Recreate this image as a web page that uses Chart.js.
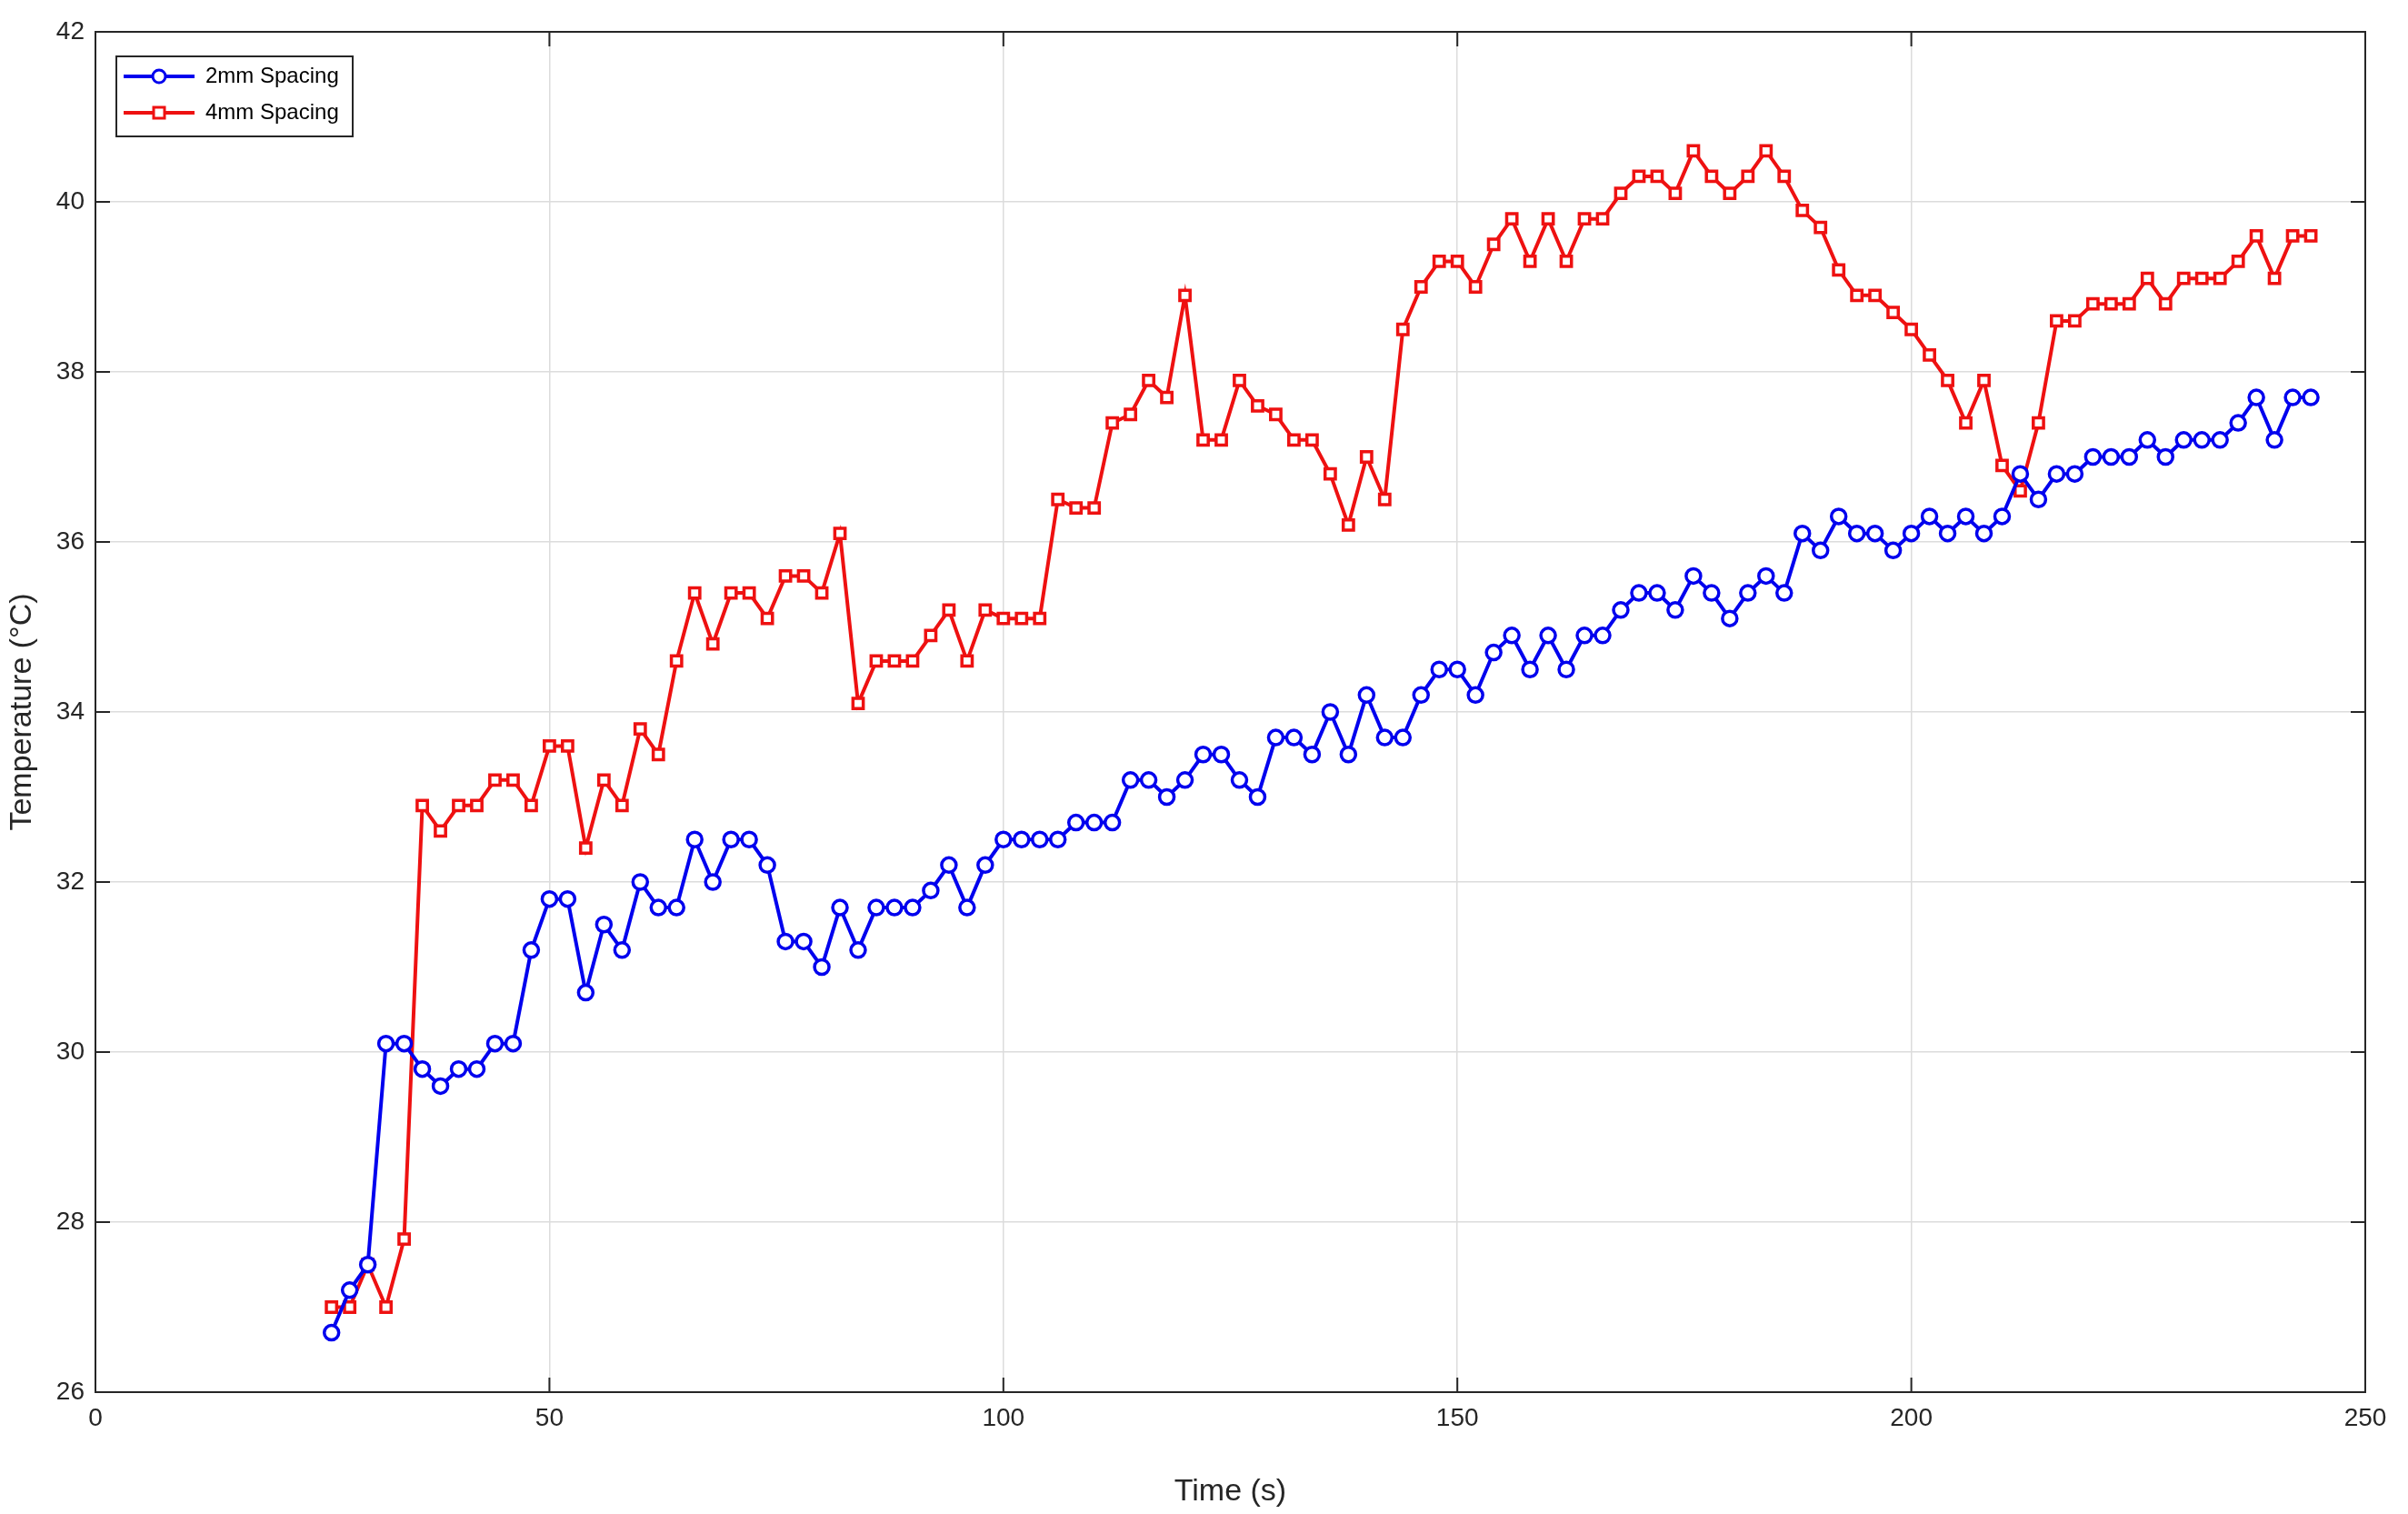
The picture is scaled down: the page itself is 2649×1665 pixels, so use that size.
<!DOCTYPE html>
<html lang="en">
<head>
    <meta charset="UTF-8">
    <title>Temperature vs Time</title>
    <script src="https://cdn.jsdelivr.net/npm/chart.js"></script>
    <style>
        body { margin: 0; background: #fff; }
        canvas { display: block; }
    </style>
</head>
<body>
    <canvas id="tempChart" width="2649" height="1665"></canvas>
    <script>
        // time stamps (s), every 2 s from 26 to 244
        const times = [];
        for (let t = 26; t <= 244; t += 2) times.push(t);

        const spacing2mm = [26.7, 27.2, 27.5, 30.1, 30.1, 29.8, 29.6, 29.8, 29.8, 30.1,
            30.1, 31.2, 31.8, 31.8, 30.7, 31.5, 31.2, 32.0, 31.7, 31.7,
            32.5, 32.0, 32.5, 32.5, 32.2, 31.3, 31.3, 31.0, 31.7, 31.2,
            31.7, 31.7, 31.7, 31.9, 32.2, 31.7, 32.2, 32.5, 32.5, 32.5,
            32.5, 32.7, 32.7, 32.7, 33.2, 33.2, 33.0, 33.2, 33.5, 33.5,
            33.2, 33.0, 33.7, 33.7, 33.5, 34.0, 33.5, 34.2, 33.7, 33.7,
            34.2, 34.5, 34.5, 34.2, 34.7, 34.9, 34.5, 34.9, 34.5, 34.9,
            34.9, 35.2, 35.4, 35.4, 35.2, 35.6, 35.4, 35.1, 35.4, 35.6,
            35.4, 36.1, 35.9, 36.3, 36.1, 36.1, 35.9, 36.1, 36.3, 36.1,
            36.3, 36.1, 36.3, 36.8, 36.5, 36.8, 36.8, 37.0, 37.0, 37.0,
            37.2, 37.0, 37.2, 37.2, 37.2, 37.4, 37.7, 37.2, 37.7, 37.7];

        const spacing4mm = [27.0, 27.0, 27.5, 27.0, 27.8, 32.9, 32.6, 32.9, 32.9, 33.2,
            33.2, 32.9, 33.6, 33.6, 32.4, 33.2, 32.9, 33.8, 33.5, 34.6,
            35.4, 34.8, 35.4, 35.4, 35.1, 35.6, 35.6, 35.4, 36.1, 34.1,
            34.6, 34.6, 34.6, 34.9, 35.2, 34.6, 35.2, 35.1, 35.1, 35.1,
            36.5, 36.4, 36.4, 37.4, 37.5, 37.9, 37.7, 38.9, 37.2, 37.2,
            37.9, 37.6, 37.5, 37.2, 37.2, 36.8, 36.2, 37.0, 36.5, 38.5,
            39.0, 39.3, 39.3, 39.0, 39.5, 39.8, 39.3, 39.8, 39.3, 39.8,
            39.8, 40.1, 40.3, 40.3, 40.1, 40.6, 40.3, 40.1, 40.3, 40.6,
            40.3, 39.9, 39.7, 39.2, 38.9, 38.9, 38.7, 38.5, 38.2, 37.9,
            37.4, 37.9, 36.9, 36.6, 37.4, 38.6, 38.6, 38.8, 38.8, 38.8,
            39.1, 38.8, 39.1, 39.1, 39.1, 39.3, 39.6, 39.1, 39.6, 39.6];

        const seriesNames = ['2mm Spacing', '4mm Spacing'];
        const xTicks = [0, 50, 100, 150, 200, 250];
        const yTicks = [26, 28, 30, 32, 34, 36, 38, 40, 42];

        const toPoints = arr => arr.map((v, i) => ({ x: times[i], y: v }));

        // box around plot with MATLAB style ticks on top/right, and boxed legend inside
        const framePlugin = {
            id: 'frame',
            afterDraw(chart) {
                const { ctx, chartArea: a, scales } = chart;
                ctx.save();
                ctx.strokeStyle = '#262626';
                ctx.lineWidth = 2;
                ctx.strokeRect(a.left, a.top, a.right - a.left, a.bottom - a.top);
                ctx.beginPath();
                xTicks.forEach(t => {
                    const px = scales.x.getPixelForValue(t);
                    ctx.moveTo(px, a.bottom); ctx.lineTo(px, a.bottom - 16);
                    ctx.moveTo(px, a.top); ctx.lineTo(px, a.top + 16);
                });
                yTicks.forEach(t => {
                    const py = scales.y.getPixelForValue(t);
                    ctx.moveTo(a.left, py); ctx.lineTo(a.left + 16, py);
                    ctx.moveTo(a.right, py); ctx.lineTo(a.right - 16, py);
                });
                ctx.stroke();

                // legend
                const lx = a.left + 23, ly = a.top + 27, lw = 260, lh = 88;
                ctx.fillStyle = '#fff';
                ctx.fillRect(lx, ly, lw, lh);
                ctx.strokeStyle = '#262626';
                ctx.lineWidth = 2;
                ctx.strokeRect(lx, ly, lw, lh);
                ctx.font = '24px Arial, "Liberation Sans", sans-serif';
                ctx.textBaseline = 'middle';
                chart.data.datasets.forEach((ds, i) => {
                    const cy = ly + 22 + i * 40;
                    ctx.strokeStyle = ds.borderColor;
                    ctx.lineWidth = 4;
                    ctx.beginPath();
                    ctx.moveTo(lx + 8, cy); ctx.lineTo(lx + 86, cy);
                    ctx.stroke();
                    ctx.lineWidth = 3;
                    ctx.fillStyle = '#fff';
                    if (i === 0) {
                        ctx.beginPath(); ctx.arc(lx + 47, cy, 7, 0, Math.PI * 2);
                        ctx.fill(); ctx.stroke();
                    } else {
                        ctx.fillRect(lx + 41, cy - 6, 12, 12);
                        ctx.strokeRect(lx + 41, cy - 6, 12, 12);
                    }
                    ctx.fillStyle = '#000';
                    ctx.fillText(ds.label, lx + 98, cy);
                });
                ctx.restore();
            }
        };

        const tickFont = { family: 'Arial, "Liberation Sans", sans-serif', size: 28 };
        const titleFont = { family: 'Arial, "Liberation Sans", sans-serif', size: 34 };

        new Chart(document.getElementById('tempChart').getContext('2d'), {
            type: 'line',
            data: {
                datasets: [{
                    label: seriesNames[0],
                    data: toPoints(spacing2mm),
                    borderColor: '#0000ee',
                    backgroundColor: '#ffffff',
                    borderWidth: 4,
                    pointStyle: 'circle',
                    pointRadius: 8,
                    pointBorderWidth: 3.5,
                    tension: 0
                }, {
                    label: seriesNames[1],
                    data: toPoints(spacing4mm),
                    borderColor: '#ee1111',
                    backgroundColor: '#ffffff',
                    borderWidth: 4,
                    pointStyle: 'rect',
                    pointRadius: 8,
                    pointBorderWidth: 3.5,
                    tension: 0
                }]
            },
            options: {
                responsive: false,
                animation: false,
                devicePixelRatio: 1,
                layout: { padding: { top: 35, right: 47, left: 0, bottom: 0 } },
                plugins: { legend: { display: false }, tooltip: { enabled: false } },
                scales: {
                    x: {
                        type: 'linear', min: 0, max: 250,
                        afterBuildTicks: s => { s.ticks = xTicks.map(v => ({ value: v })); },
                        afterFit: s => { s.height = 134; },
                        grid: { color: '#dcdcdc', lineWidth: 1.5, drawTicks: false },
                        border: { display: false },
                        ticks: { font: tickFont, color: '#262626', padding: 12, maxRotation: 0 },
                        title: { display: true, text: 'Time (s)', font: titleFont, color: '#262626', padding: { top: 14 } }
                    },
                    y: {
                        min: 26, max: 42,
                        afterBuildTicks: s => { s.ticks = yTicks.map(v => ({ value: v })); },
                        afterFit: s => { s.width = 105; },
                        grid: { color: '#dcdcdc', lineWidth: 1.5, drawTicks: false },
                        border: { display: false },
                        ticks: { font: tickFont, color: '#262626', padding: 12 },
                        title: { display: true, text: 'Temperature (°C)', font: titleFont, color: '#262626', padding: { bottom: 4 } }
                    }
                }
            },
            plugins: [framePlugin]
        });
    </script>
</body>
</html>
